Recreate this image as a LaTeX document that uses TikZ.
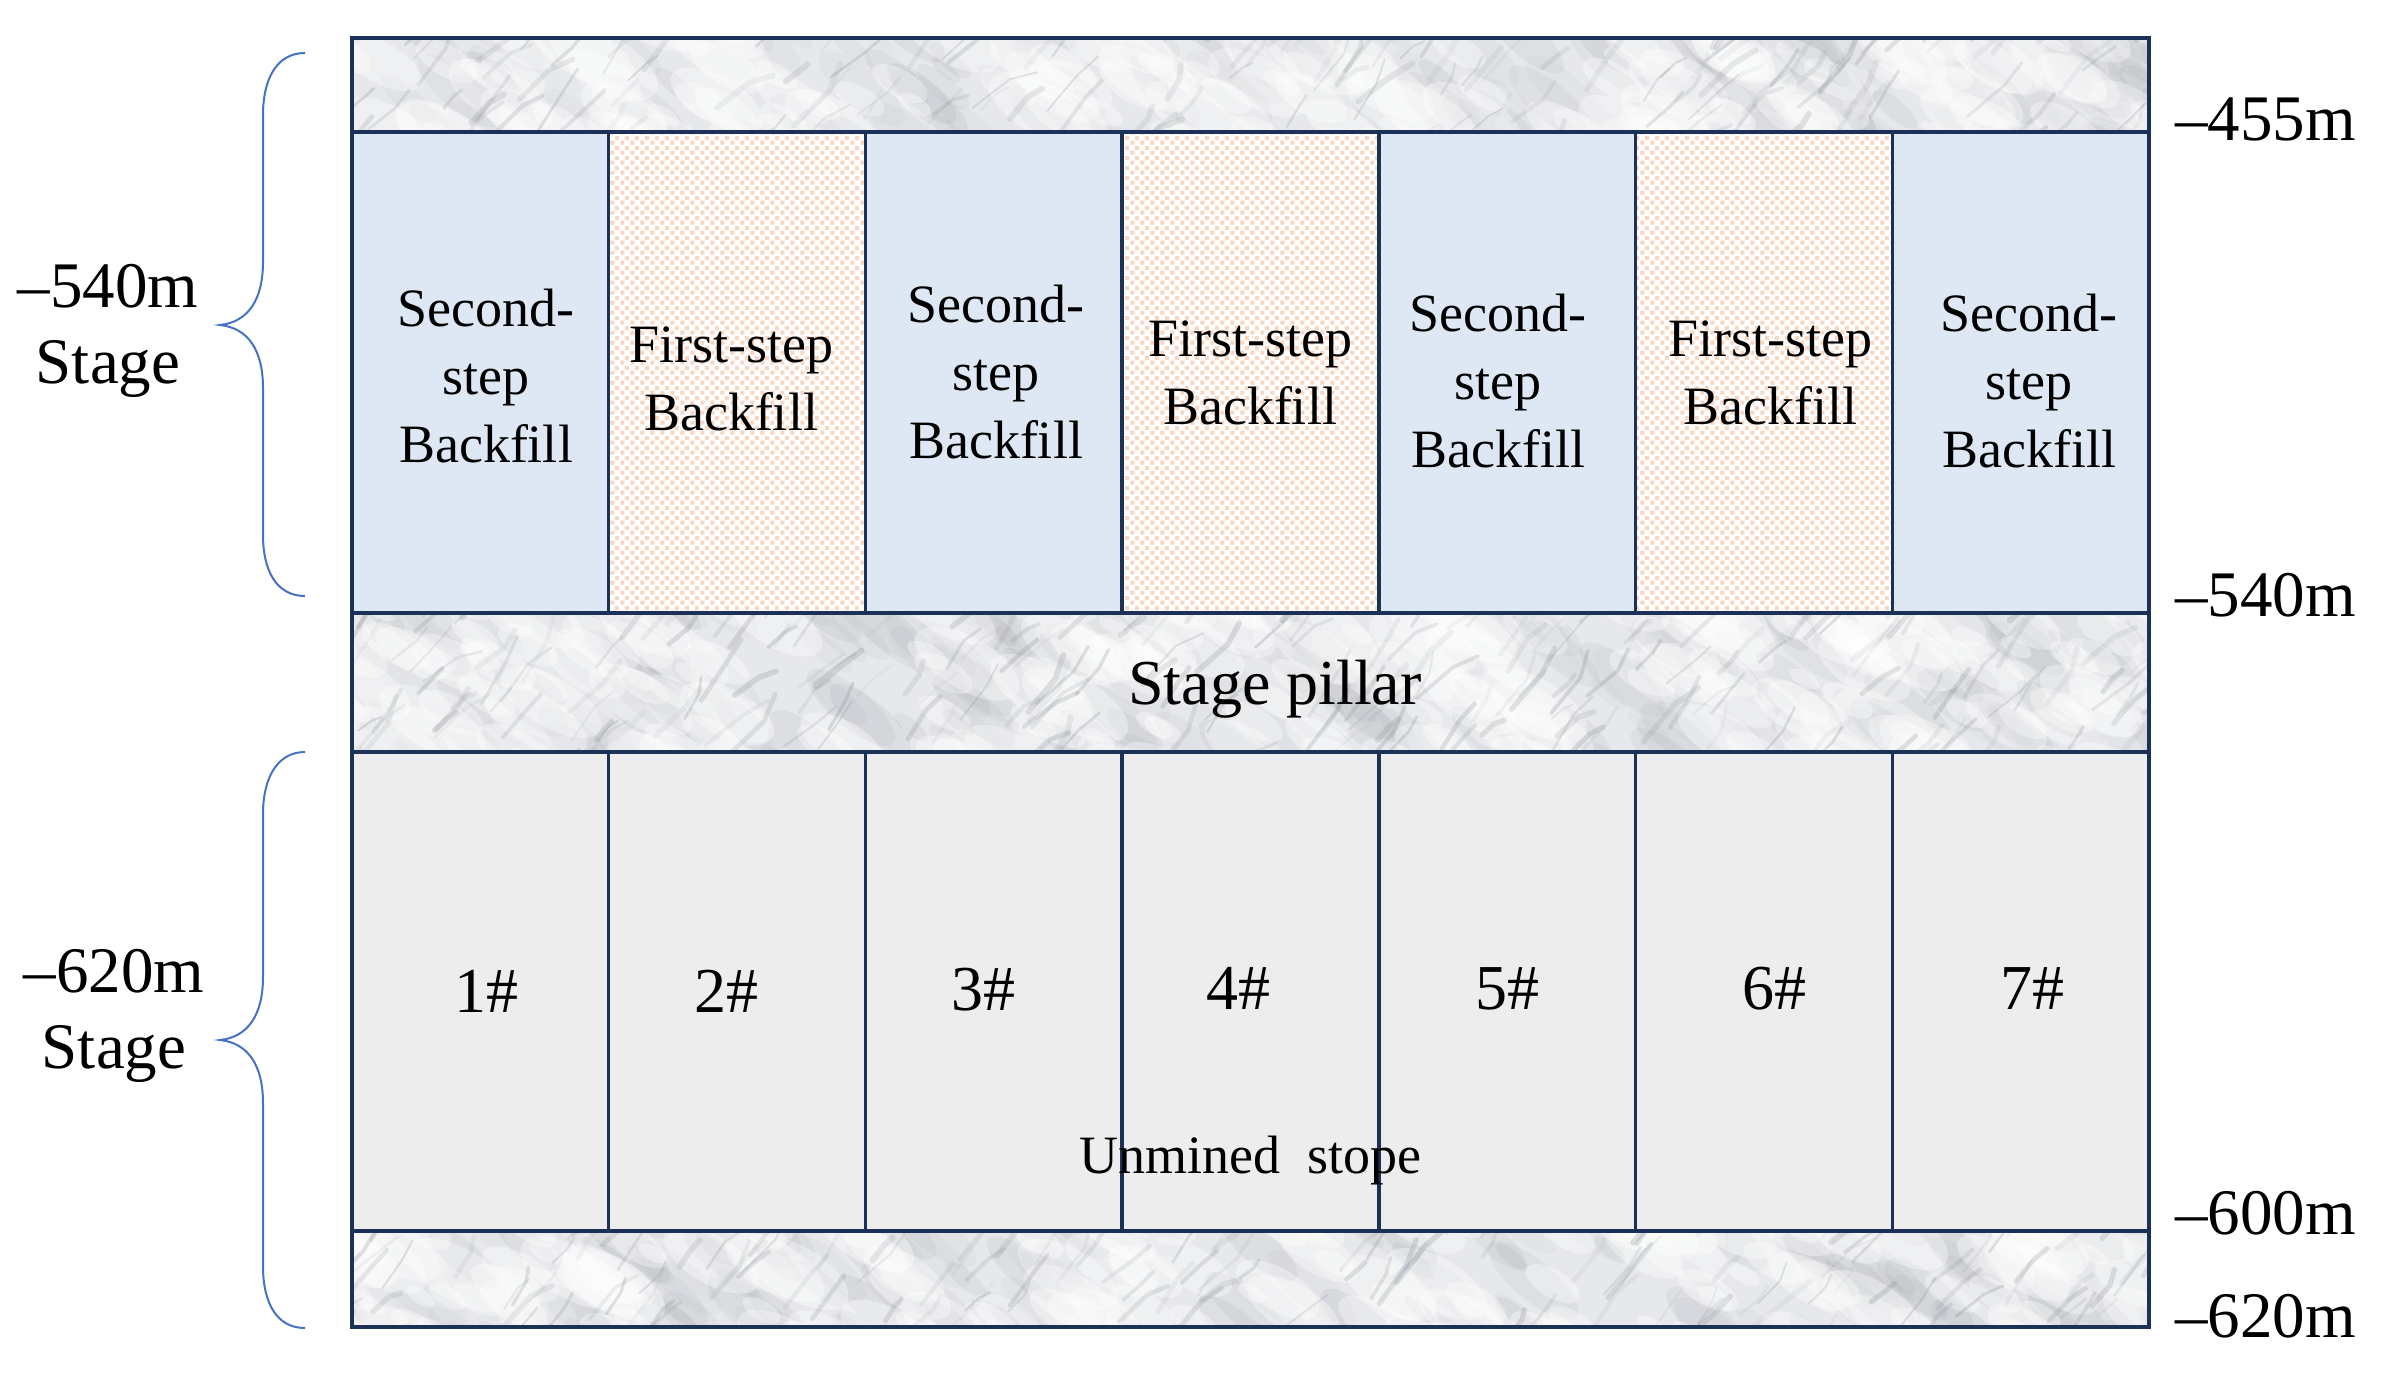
\documentclass[tikz,border=0pt]{standalone}
\usepackage{fontspec}
\setmainfont{Liberation Serif}
\usetikzlibrary{patterns.meta}
\definecolor{navy}{HTML}{1C3158}
\definecolor{bluefill}{HTML}{DEE8F4}
\definecolor{peach}{HTML}{F9D6C0}
\definecolor{grayfill}{HTML}{EDEDED}
\definecolor{bracecol}{HTML}{4472C4}
\definecolor{rockbase}{HTML}{E7E8EB}
\definecolor{veincol}{HTML}{80868F}

\pgfdeclarepattern{
  name=peachsq,
  type=uncolored,
  bottom left={\pgfpoint{0pt}{0pt}},
  top right={\pgfpoint{5pt}{5pt}},
  tile size={\pgfpoint{5pt}{5pt}},
  code={
    \pgfpathrectangle{\pgfpoint{0.2pt}{0.2pt}}{\pgfpoint{2.2pt}{2.2pt}}
    \pgfpathrectangle{\pgfpoint{2.7pt}{2.7pt}}{\pgfpoint{2.2pt}{2.2pt}}
    \pgfusepath{fill}
  }
}

\newcommand\myrockband[5]{%
  \begin{scope}
    \clip (#1,#2) rectangle (#3,#4);
    \fill[rockbase] (#1,#2) rectangle (#3,#4);
    \foreach \k in {1,...,#5}{
      \pgfmathsetmacro\rx{#1-40+(#3-#1+80)*rnd}
      \pgfmathsetmacro\ry{#2-20+(#4-#2+40)*rnd}
      \pgfmathsetmacro\rr{18+40*rnd}
      \pgfmathsetmacro\ro{0.03+0.07*rnd}
      \fill[veincol,opacity=\ro] (\rx,\ry) ellipse [x radius=\rr, y radius=0.35*\rr, rotate=-40];
    }
    \foreach \k in {1,...,#5}{
      \pgfmathsetmacro\rx{#1-40+(#3-#1+80)*rnd}
      \pgfmathsetmacro\ry{#2-20+(#4-#2+40)*rnd}
      \pgfmathsetmacro\rr{15+45*rnd}
      \fill[white,opacity=0.35] (\rx,\ry) ellipse [x radius=\rr, y radius=0.45*\rr, rotate=-30];
    }
    \foreach \k in {1,...,#5}{
      \pgfmathsetmacro\rx{#1-30+(#3-#1+60)*rnd}
      \pgfmathsetmacro\ry{#2-20+(#4-#2+40)*rnd}
      \pgfmathsetmacro\rl{15+35*rnd}
      \pgfmathsetmacro\ra{-(35+25*rnd)}
      \pgfmathsetmacro\rb{\ra+50*rnd-25}
      \pgfmathsetmacro\ro{0.06+0.18*rnd}
      \pgfmathsetmacro\rw{0.8+2.2*rnd}
      \draw[veincol,opacity=\ro,line width=\rw pt,line cap=round,line join=round]
        (\rx,\ry) -- ++(\ra:\rl) -- ++(\rb:0.6*\rl);
    }
  \end{scope}%
}

\tikzset{
  colbox/.style={font=\fontsize{27pt}{34pt}\selectfont, align=center, inner sep=0pt},
  numlbl/.style={font=\fontsize{32pt}{38pt}\selectfont, inner sep=0pt, anchor=base},
  sidelbl/.style={font=\fontsize{32.5pt}{38pt}\selectfont, inner sep=0pt, anchor=base east},
  stagelbl/.style={font=\fontsize{32.5pt}{38pt}\selectfont, align=center, inner sep=0pt},
  gridline/.style={navy, line width=1.75pt},
  bracestyle/.style={bracecol, line width=1pt},
}

\begin{document}
\begin{tikzpicture}[x=0.5pt,y=-0.5pt]
\useasboundingbox (0,0) rectangle (2382,1375);
\pgfmathsetseed{4711}

% rock bands
\myrockband{352}{38}{2149}{132}{150}
\myrockband{352}{613}{2149}{752}{220}
\myrockband{352}{1231}{2149}{1327}{150}

% stopes
\foreach \i in {0,...,6}{
  \pgfmathsetmacro\xa{352+256.714*\i}
  \pgfmathsetmacro\xb{352+256.714*(\i+1)}
  \ifodd\i
    \fill[white] (\xa,132) rectangle (\xb,613);
    \fill[pattern=peachsq, pattern color=peach] (\xa,132) rectangle (\xb,613);
  \else
    \fill[bluefill] (\xa,132) rectangle (\xb,613);
  \fi
  \fill[grayfill] (\xa,752) rectangle (\xb,1231);
}

% grid lines
\foreach \i in {1,...,6}{
  \pgfmathsetmacro\xa{352+256.714*\i}
  \draw[gridline] (\xa,132) -- (\xa,613);
  \draw[gridline] (\xa,752) -- (\xa,1231);
}
\draw[gridline] (352,132) -- (2149,132);
\draw[gridline] (352,613) -- (2149,613);
\draw[gridline] (352,752) -- (2149,752);
\draw[gridline] (352,1231) -- (2149,1231);
\draw[gridline] (352,38) rectangle (2149,1327);

% upper stope labels
\node[colbox] (s1) at (486,376) {Second-\\step\\Backfill};
\node[colbox] (f2) at (731,379) {First-step\\Backfill};
\node[colbox] (s3) at (996,372) {Second-\\step\\Backfill};
\node[colbox] (f4) at (1250,373) {First-step\\Backfill};
\node[colbox] (s5) at (1498,381) {Second-\\step\\Backfill};
\node[colbox] (f6) at (1770,373) {First-step\\Backfill};
\node[colbox] (s7) at (2029,381) {Second-\\step\\Backfill};

% pillar label
\node[numlbl] (pillar) at (1275,704) {Stage pillar};

% lower stope labels
\node[numlbl] (n1) at (486,1012) {1\#};
\node[numlbl] (n2) at (726,1012) {2\#};
\node[numlbl] (n3) at (983,1010) {3\#};
\node[numlbl] (n4) at (1238,1009) {4\#};
\node[numlbl] (n5) at (1507,1009) {5\#};
\node[numlbl] (n6) at (1774,1009) {6\#};
\node[numlbl] (n7) at (2032,1009) {7\#};
\node[font=\fontsize{27pt}{34pt}\selectfont, inner sep=0pt, anchor=base] (unmined) at (1250,1173) {Unmined\ \ stope};

% right elevation labels
\node[sidelbl] (e455) at (2356,141) {–455m};
\node[sidelbl] (e540) at (2356,616) {–540m};
\node[sidelbl] (e600) at (2356,1234) {–600m};
\node[sidelbl] (e620) at (2356,1337) {–620m};

% left stage labels
\node[stagelbl] (st540) at (108,331) {–540m\\Stage};
\node[stagelbl] (st620) at (114,1016) {–620m\\Stage};

% braces
\draw[bracestyle] (305,53) .. controls (276,53) and (263,80) .. (263,115)
  -- (263,262) .. controls (263,300) and (248,322) .. (220,325)
  .. controls (248,328) and (263,350) .. (263,388)
  -- (263,535) .. controls (263,570) and (276,596) .. (305,596);
\draw[bracestyle] (305,752) .. controls (276,752) and (263,780) .. (263,814)
  -- (263,977) .. controls (263,1015) and (248,1037) .. (220,1040)
  .. controls (248,1043) and (263,1065) .. (263,1103)
  -- (263,1266) .. controls (263,1302) and (276,1328) .. (305,1328);
\end{tikzpicture}
\end{document}
